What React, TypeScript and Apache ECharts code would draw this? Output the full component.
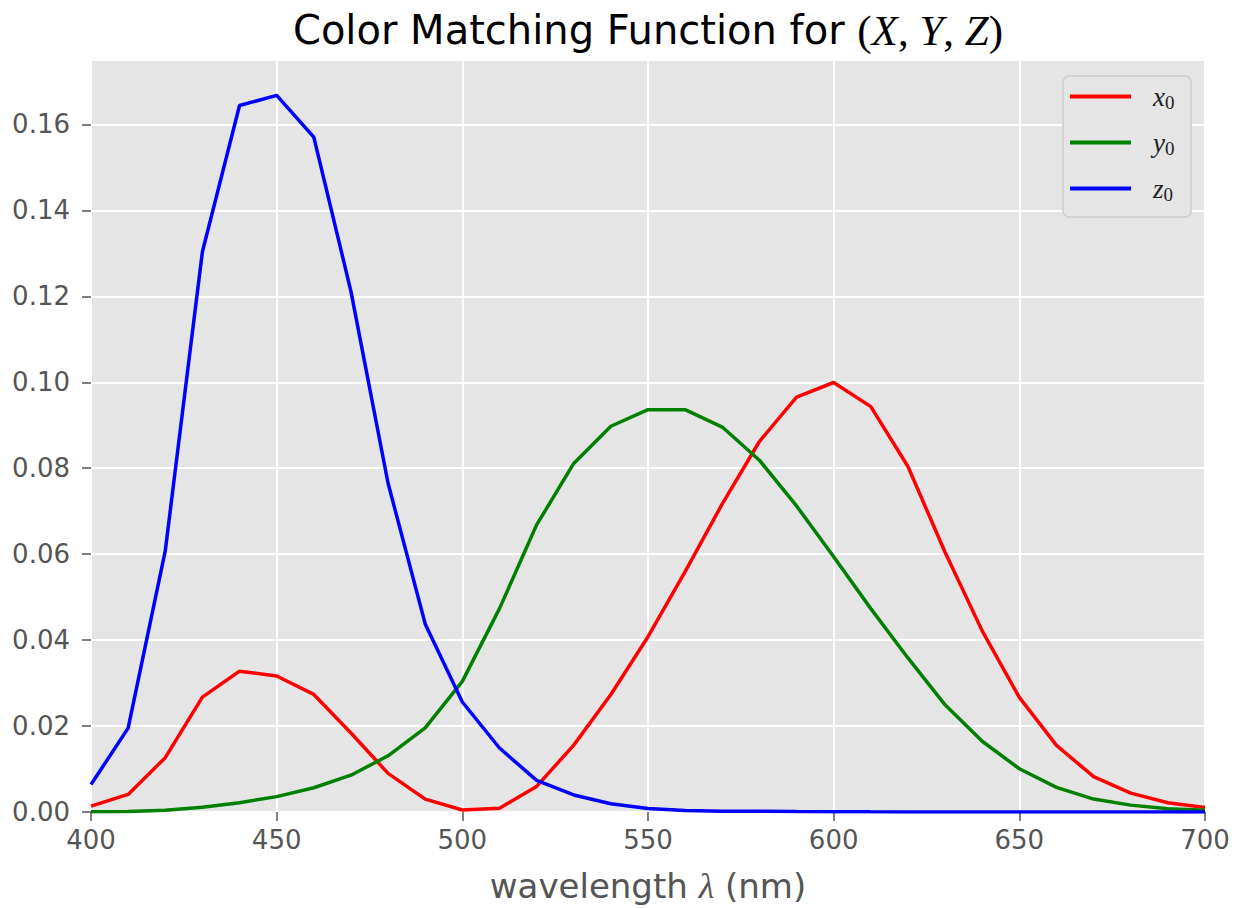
import React, { useEffect, useRef } from "react";
import * as echarts from "echarts";

const wavelengths = [400, 410, 420, 430, 440, 450, 460, 470, 480, 490, 500, 510, 520, 530, 540, 550, 560, 570, 580, 590, 600, 610, 620, 630, 640, 650, 660, 670, 680, 690, 700];

const x0 = [0.00135, 0.00409, 0.01265, 0.02672, 0.03277, 0.03164, 0.02736, 0.01838, 0.009, 0.00301, 0.00046, 0.00088, 0.00595, 0.01557, 0.02733, 0.04079, 0.05594, 0.07171, 0.08622, 0.09657, 0.09995, 0.09434, 0.0804, 0.06045, 0.04215, 0.02668, 0.01552, 0.00822, 0.0044, 0.00214, 0.00107];

const y0 = [0.00004, 0.00011, 0.00038, 0.00109, 0.00216, 0.00358, 0.00565, 0.00856, 0.01308, 0.01957, 0.03039, 0.04733, 0.06681, 0.08111, 0.08977, 0.09363, 0.09363, 0.08958, 0.08187, 0.07123, 0.05938, 0.04733, 0.03585, 0.02494, 0.01647, 0.01007, 0.00574, 0.00301, 0.0016, 0.00077, 0.00039];

const z0 = [0.00638, 0.01952, 0.06075, 0.13038, 0.1644, 0.16676, 0.15707, 0.12117, 0.0765, 0.04377, 0.0256, 0.01489, 0.00736, 0.00397, 0.00191, 0.00082, 0.00037, 0.0002, 0.00016, 0.0001, 0.00008, 0.00003, 0.00002, 0.00001, 0.00001, 0.00001, 0.00001, 0.00001, 0.00001, 0.00001, 0.00001];

const seriesNames = ["x0", "y0", "z0"];
const seriesColors = ["#ff0000", "#008000", "#0000ff"];
const seriesValues = [x0, y0, z0];

const xTicks = { min: 400, max: 700, interval: 50 };
const yTicks = { min: 0, max: 0.175, interval: 0.02 };

export default function App() {
  const ref = useRef<HTMLDivElement>(null);
  useEffect(() => {
    const chart = echarts.init(ref.current!, null, { renderer: "svg" });
    const mathFont = "Liberation Serif";
    chart.setOption({
      animation: false,
      backgroundColor: "#ffffff",
      grid: {
        left: 91,
        right: 36,
        top: 60,
        bottom: 96,
        containLabel: false,
        outerBoundsMode: "none",
        show: true,
        backgroundColor: "#e5e5e5",
        borderWidth: 0,
      },
      xAxis: {
        type: "value",
        min: xTicks.min,
        max: xTicks.max,
        interval: xTicks.interval,
        axisLine: { show: false },
        axisTick: { show: true, length: 9, lineStyle: { color: "#555555", width: 1.5 } },
        axisLabel: { color: "#555555", fontSize: 26, fontFamily: "DejaVu Sans", margin: 15 },
        splitLine: { show: true, lineStyle: { color: "#ffffff", width: 1.8 } },
        name: "wavelength {l|λ} (nm)",
        nameLocation: "middle",
        nameGap: 56,
        nameTextStyle: {
          color: "#555555",
          fontSize: 34,
          fontFamily: "DejaVu Sans",
          rich: {
            l: { color: "#555555", fontSize: 36, fontFamily: mathFont, fontStyle: "italic" },
          },
        },
      },
      yAxis: {
        type: "value",
        min: yTicks.min,
        max: yTicks.max,
        interval: yTicks.interval,
        axisLine: { show: false },
        axisTick: { show: true, length: 9, lineStyle: { color: "#555555", width: 1.5 } },
        axisLabel: {
          color: "#555555",
          fontSize: 26,
          fontFamily: "DejaVu Sans",
          margin: 21,
          showMaxLabel: false,
          formatter: (v: number) => v.toFixed(2),
        },
        splitLine: { show: true, lineStyle: { color: "#ffffff", width: 1.8 } },
      },
      legend: {
        orient: "vertical",
        left: 1070,
        top: 81,
        padding: 0,
        itemWidth: 61,
        itemHeight: 4,
        itemGap: 15,
        icon: "rect",
        z: 5,
        data: seriesNames,
        formatter: (name: string) => `{i|${name.charAt(0)}}{s|${name.charAt(1)}}`,
        textStyle: {
          padding: [0, 0, 0, 17],
          lineHeight: 30,
          rich: {
            i: { fontFamily: mathFont, fontStyle: "italic", fontSize: 27, color: "#222222", lineHeight: 30 },
            s: { fontFamily: mathFont, fontSize: 19, color: "#222222", padding: [12, 0, 0, 0], lineHeight: 30 },
          },
        },
      },
      graphic: [
        {
          type: "rect",
          z: 3,
          shape: { x: 1063, y: 76, width: 128, height: 141, r: 6 },
          style: { fill: "#e5e5e5", stroke: "#cccccc", lineWidth: 1.5 },
        },
        {
          type: "text",
          x: 648,
          y: 30,
          style: {
            text: "{a|Color Matching Function for }{p|(}{b|X}{p|, }{b|Y}{p|, }{b|Z}{p|)}",
            align: "center",
            verticalAlign: "middle",
            rich: {
              a: { fontFamily: "DejaVu Sans", fontSize: 40, fill: "#000000" },
              p: { fontFamily: mathFont, fontSize: 43, fill: "#000000" },
              b: { fontFamily: mathFont, fontStyle: "italic", fontSize: 43, fill: "#000000" },
            },
          },
        },
      ],
      series: seriesNames.map((name, i) => ({
        name,
        type: "line",
        showSymbol: false,
        symbol: "none",
        color: seriesColors[i],
        lineStyle: { color: seriesColors[i], width: 3.5 },
        data: wavelengths.map((w, j) => [w, seriesValues[i][j]]),
        z: 2,
      })),
    });
    return () => chart.dispose();
  }, []);
  return (
    <div
      ref={ref}
      style={{ position: "absolute", left: 0, top: 0, width: 1241, height: 908, background: "#ffffff" }}
    />
  );
}
